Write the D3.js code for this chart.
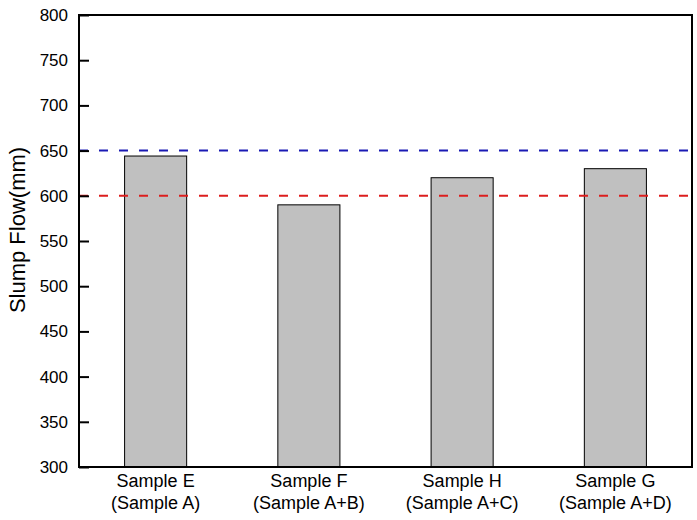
<!DOCTYPE html>
<html><head><meta charset="utf-8">
<script src="https://cdn.jsdelivr.net/npm/d3@7"></script>
<style>body{margin:0;background:#fff;} svg{display:block;font-family:Arial, "Liberation Sans", sans-serif;}</style>
</head><body>
<svg id="c" width="697" height="520"></svg>
<script>
const categories = ["Sample E", "Sample F", "Sample H", "Sample G"];
const subLabels = ["(Sample A)", "(Sample A+B)", "(Sample A+C)", "(Sample A+D)"];
const values = [644, 590, 620, 630];
const refLines = [{value: 650, color: "#1a1ab4"}, {value: 600, color: "#dc1e1e"}];
const yTicks = [300, 350, 400, 450, 500, 550, 600, 650, 700, 750, 800];

const svg = d3.select("#c");
const L = 79, R = 692, T = 15, B = 467;
const x = d3.scaleBand().domain(categories).range([L, R]).paddingInner(0.595).paddingOuter(0.2975);
const y = d3.scaleLinear().domain([300, 800]).range([B, T]);

// bars
svg.selectAll("rect.bar").data(values).enter().append("rect")
  .attr("class","bar")
  .attr("x", (d,i)=>x(categories[i]))
  .attr("y", d=>y(d))
  .attr("width", x.bandwidth())
  .attr("height", d=>B - y(d))
  .attr("fill","#c0c0c0").attr("stroke","#000").attr("stroke-width",1);

// reference lines
svg.selectAll("line.ref").data(refLines).enter().append("line")
  .attr("x1", L).attr("x2", R)
  .attr("y1", d=>y(d.value)).attr("y2", d=>y(d.value))
  .attr("stroke", d=>d.color).attr("stroke-width",2)
  .attr("stroke-dasharray","9,11");

// frame
svg.append("rect").attr("x",L).attr("y",T).attr("width",R-L).attr("height",B-T)
  .attr("fill","none").attr("stroke","#000").attr("stroke-width",2);

// y axis
const yAxis = d3.axisLeft(y).tickValues(yTicks).tickSize(-10).tickPadding(11);
const gy = svg.append("g").attr("transform",`translate(${L},0)`).call(yAxis);
gy.select(".domain").remove();
gy.selectAll(".tick line").attr("stroke","#000").attr("stroke-width",2);
gy.selectAll(".tick text").attr("font-size",17).attr("fill","#000").style("font-family","Arial, 'Liberation Sans', sans-serif");

// x labels
const gx = svg.append("g");
categories.forEach((c,i)=>{
  const cx = x(c) + x.bandwidth()/2;
  gx.append("text").attr("x",cx).attr("y",487).attr("text-anchor","middle")
    .attr("font-size",18).text(c);
  gx.append("text").attr("x",cx).attr("y",509).attr("text-anchor","middle")
    .attr("font-size",18).text(subLabels[i]);
});

// y title
svg.append("text").attr("transform",`translate(25,230) rotate(-90)`)
  .attr("text-anchor","middle").attr("font-size",22).text("Slump Flow(mm)");
</script>
</body></html>
